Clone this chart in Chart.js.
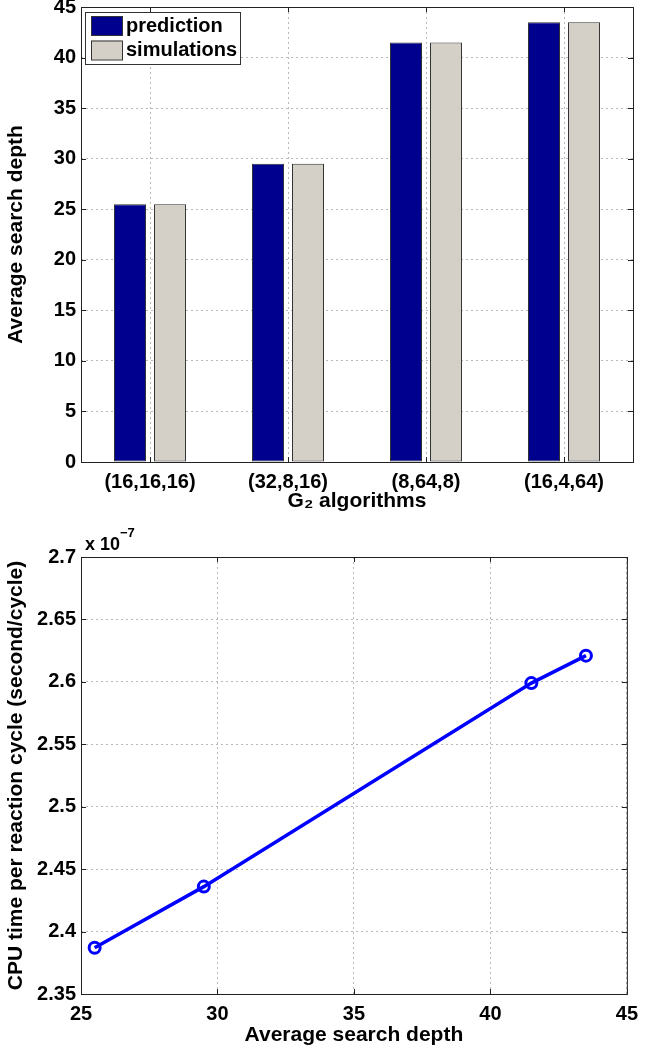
<!DOCTYPE html>
<html>
<head>
<meta charset="utf-8">
<script src="https://cdn.jsdelivr.net/npm/chart.js@4.4.1/dist/chart.umd.min.js"></script>
<style>
  body { margin: 0; background: #fff; width: 646px; height: 1050px; overflow: hidden; position: relative; }
  #top { position: absolute; left: 0; top: -20px; width: 646px; height: 545px; }
  #bottom { position: absolute; left: 0; top: 510px; width: 646px; height: 540px; }
</style>
</head>
<body>
<div id="top"><canvas id="barChart"></canvas></div>
<div id="bottom"><canvas id="lineChart"></canvas></div>
<script>
const algorithms = ["(16,16,16)", "(32,8,16)", "(8,64,8)", "(16,4,64)"];
const prediction = [25.5, 29.5, 41.5, 43.5];
const simulations = [25.5, 29.5, 41.5, 43.5];

const searchDepth = [25.5, 29.5, 41.5, 43.5];
const cpuTime = [2.387, 2.436, 2.599, 2.621]; // in units of 1e-7 s/cycle

const FONT = "'Liberation Sans', Arial, sans-serif";
Chart.defaults.font.family = FONT;
Chart.defaults.color = "#000";

const tickFont = { size: 20, weight: "bold" };
const titleFont = { size: 21, weight: "bold" };
const gridStyle = { color: "#b8b8b8", lineWidth: 1, drawTicks: false };
const dash = { dash: [2, 3] };

// box round the plot + small inward ticks, matlab style
const frame = {
  id: "frame",
  afterDraw(chart) {
    const { ctx, chartArea: a, scales } = chart;
    ctx.save();
    ctx.strokeStyle = "#222";
    ctx.lineWidth = 1;
    ctx.strokeRect(a.left + 0.5, a.top + 0.5, a.right - a.left, a.bottom - a.top);
    ctx.beginPath();
    scales.y.ticks.forEach((t, i) => {
      const y = Math.round(scales.y.getPixelForTick(i)) + 0.5;
      ctx.moveTo(a.left, y); ctx.lineTo(a.left + 5, y);
      ctx.moveTo(a.right, y); ctx.lineTo(a.right - 5, y);
    });
    scales.x.ticks.forEach((t, i) => {
      const x = Math.round(scales.x.getPixelForTick(i)) + 0.5;
      ctx.moveTo(x, a.bottom); ctx.lineTo(x, a.bottom - 5);
      ctx.moveTo(x, a.top); ctx.lineTo(x, a.top + 5);
    });
    ctx.stroke();
    ctx.restore();
  }
};

const boxLegend = {
  id: "boxLegend",
  afterDraw(chart) {
    const { ctx, chartArea: a } = chart;
    const x = a.left + 4, y = a.top + 5, w = 155, h = 52;
    ctx.save();
    ctx.fillStyle = "#fff";
    ctx.fillRect(x, y, w, h);
    ctx.strokeStyle = "#333";
    ctx.lineWidth = 1;
    ctx.strokeRect(x + 0.5, y + 0.5, w, h);
    ctx.font = "bold 20px " + FONT;
    ctx.textBaseline = "middle";
    chart.data.datasets.forEach((ds, i) => {
      const sy = y + 4 + i * 24.5;
      ctx.fillStyle = ds.backgroundColor;
      ctx.fillRect(x + 6, sy, 31, 19);
      ctx.strokeStyle = "#333";
      ctx.strokeRect(x + 6.5, sy + 0.5, 31, 19);
      ctx.fillStyle = "#000";
      ctx.fillText(ds.label, x + 41, sy + 10);
    });
    ctx.restore();
  }
};

const exponent = {
  id: "exponent",
  afterDraw(chart) {
    const { ctx, chartArea: a } = chart;
    ctx.save();
    ctx.fillStyle = "#000";
    ctx.textBaseline = "alphabetic";
    ctx.font = "bold 18px " + FONT;
    ctx.fillText("x 10", a.left + 4, a.top - 7);
    ctx.font = "bold 13px " + FONT;
    ctx.fillText("\u22127", a.left + 39, a.top - 20);
    ctx.restore();
  }
};

new Chart(document.getElementById("barChart"), {
  type: "bar",
  data: {
    labels: algorithms,
    datasets: [
      { label: "prediction", data: prediction, backgroundColor: "#00008f", borderColor: "#333", borderWidth: 1, borderSkipped: false },
      { label: "simulations", data: simulations, backgroundColor: "#d4d0c8", borderColor: "#333", borderWidth: 1, borderSkipped: false }
    ]
  },
  options: {
    responsive: true,
    maintainAspectRatio: false,
    animation: false,
    layout: { padding: { top: 27, right: 13, left: 0, bottom: 0 } },
    datasets: { bar: { categoryPercentage: 0.58, barPercentage: 0.8 } },
    plugins: { legend: { display: false }, tooltip: { enabled: false } },
    scales: {
      x: {
        grid: { ...gridStyle, offset: false },
        border: { display: false, ...dash },
        ticks: { font: tickFont, padding: 8 },
        title: { display: true, text: "G\u2082 algorithms", font: titleFont, padding: { top: 0, bottom: 11 } },
        afterFit(s) { s.height = 63; }
      },
      y: {
        min: 0, max: 45,
        grid: gridStyle,
        border: { display: false, ...dash },
        ticks: { stepSize: 5, font: tickFont, padding: 5 },
        title: { display: true, text: "Average search depth", font: titleFont, padding: { top: 4, bottom: 0 } },
        afterFit(s) { s.width = 81; }
      }
    }
  },
  plugins: [frame, boxLegend]
});

new Chart(document.getElementById("lineChart"), {
  type: "line",
  data: {
    datasets: [{
      label: "CPU time",
      data: searchDepth.map((d, i) => ({ x: d, y: cpuTime[i] })),
      borderColor: "#0000ff",
      borderWidth: 3.5,
      pointRadius: 5.5,
      pointBorderWidth: 3,
      pointBackgroundColor: "rgba(0,0,0,0)",
      pointBorderColor: "#0000ff",
      tension: 0
    }]
  },
  options: {
    responsive: true,
    maintainAspectRatio: false,
    animation: false,
    layout: { padding: { top: 47, right: 12, left: 0, bottom: 0 } },
    plugins: { legend: { display: false }, tooltip: { enabled: false } },
    scales: {
      x: {
        type: "linear",
        min: 25, max: 45,
        grid: gridStyle,
        border: { display: false, ...dash },
        ticks: { stepSize: 5, font: tickFont, padding: 8 },
        title: { display: true, text: "Average search depth", font: titleFont, padding: { top: 0, bottom: 2 } },
        afterFit(s) { s.height = 56; }
      },
      y: {
        min: 2.35, max: 2.7,
        grid: gridStyle,
        border: { display: false, ...dash },
        ticks: { stepSize: 0.05, font: tickFont, padding: 5, callback: (v) => String(+v.toFixed(2)) },
        title: { display: true, text: "CPU time per reaction cycle (second/cycle)", font: titleFont, padding: { top: 4, bottom: 0 } },
        afterFit(s) { s.width = 81; }
      }
    }
  },
  plugins: [frame, exponent]
});
</script>
</body>
</html>
